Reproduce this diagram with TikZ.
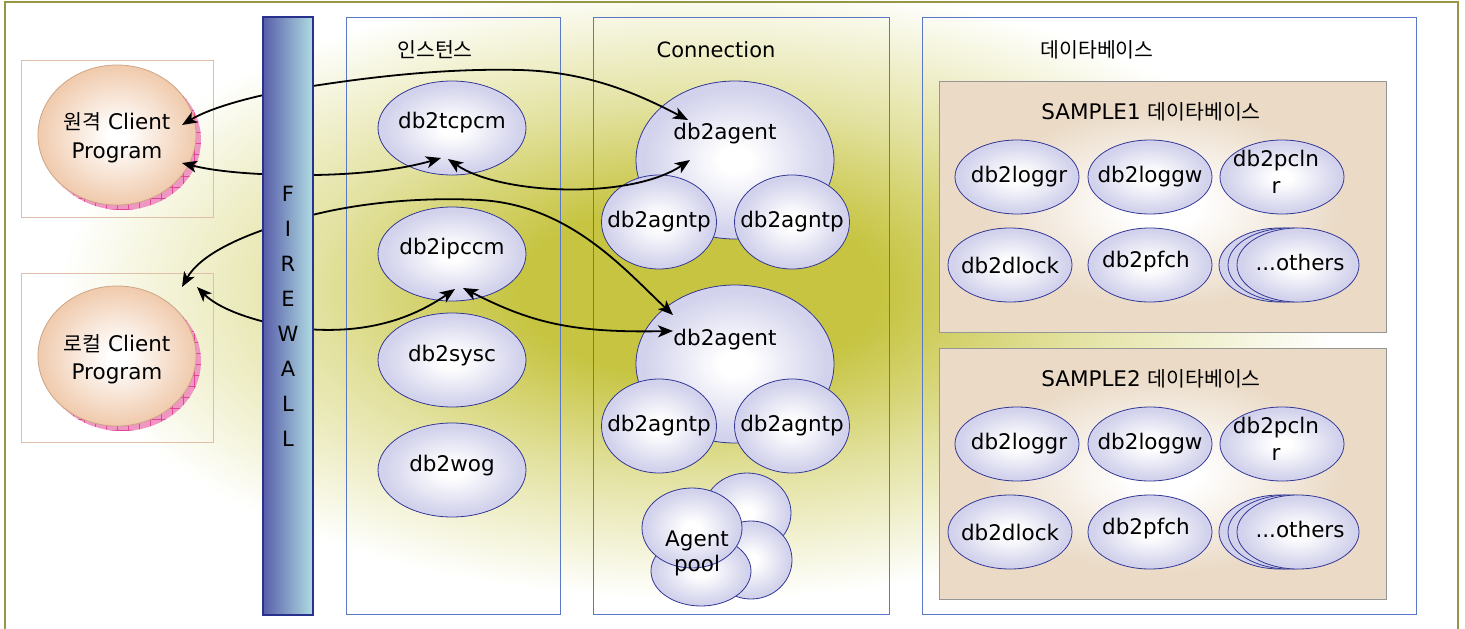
\documentclass[tikz,border=0pt]{standalone}
\usepackage{fontspec}
\setmainfont{DejaVu Sans}
\newfontfamily\kr{Noto Sans CJK KR}
\usetikzlibrary{shapes.geometric,arrows.meta}

\definecolor{glow}{RGB}{198,196,64}
\colorlet{glowmid}{glow!50!white}
\definecolor{frameol}{RGB}{150,150,70}
\definecolor{colblue}{RGB}{90,120,200}
\definecolor{lav}{RGB}{210,210,236}
\definecolor{ellb}{RGB}{50,55,150}
\definecolor{peach}{RGB}{240,202,172}
\definecolor{peachb}{RGB}{205,165,135}
\definecolor{pinkf}{RGB}{240,150,195}
\definecolor{pinkl}{RGB}{225,70,150}
\definecolor{tanf}{RGB}{234,218,198}
\definecolor{tanbox}{RGB}{224,190,168}
\definecolor{fwl}{RGB}{88,94,170}
\definecolor{fwr}{RGB}{176,220,226}
\definecolor{fwb}{RGB}{40,50,140}
\definecolor{dbgray}{RGB}{150,150,150}

\pgfdeclareradialshading{bgglow}{\pgfpoint{0bp}{0bp}}{color(0bp)=(glow); color(7bp)=(glow); color(15bp)=(glowmid); color(25bp)=(white); color(50bp)=(white)}
\pgfdeclareradialshading{tanglow}{\pgfpoint{0bp}{0bp}}{color(0bp)=(white); color(4bp)=(white); color(20bp)=(tanf); color(50bp)=(tanf)}
\pgfdeclareradialshading{lavglow}{\pgfpoint{0bp}{0bp}}{color(0bp)=(white); color(4bp)=(white); color(23bp)=(lav); color(50bp)=(lav)}
\pgfdeclareradialshading{peachglow}{\pgfpoint{0bp}{0bp}}{color(0bp)=(white); color(3bp)=(white); color(25bp)=(peach); color(50bp)=(peach)}

\begin{document}
\begin{tikzpicture}[x=1pt,y=-1pt,
  proc/.style={ellipse, draw=ellb, line width=0.8pt, shade, shading=lavglow, inner sep=0pt, minimum width=124pt, minimum height=74pt},
  instp/.style={proc, minimum width=148pt, minimum height=94pt},
  agentp/.style={proc, minimum width=198pt, minimum height=158pt},
  agntpp/.style={proc, minimum width=115pt, minimum height=94pt},
  lbl/.style={font=\fontsize{21.5}{27}\selectfont, align=center, inner sep=0pt},
  ttl/.style={font=\kr\fontsize{20.5}{24}\selectfont, inner sep=0pt},
  client/.style={ellipse, draw=peachb, line width=0.8pt, shade, shading=peachglow, inner sep=0pt, minimum width=158pt, minimum height=140pt},
  clbox/.style={draw=tanbox, line width=1pt, inner sep=0pt},
  colbox/.style={draw=colblue, line width=1pt, inner sep=0pt},
  dbbox/.style={draw=dbgray, line width=1pt, shade, shading=tanglow, inner sep=0pt, minimum width=447pt, minimum height=251pt},
  conn/.style={line width=1.8pt, {Stealth[length=15pt,width=12pt,inset=4pt]}-{Stealth[length=15pt,width=12pt,inset=4pt]}},
]
\useasboundingbox (0,0) rectangle (1465,629);
\fill[white] (0,0) rectangle (1465,629);
% background glow
\begin{scope}
  \clip (5,2) rectangle (1458,629);
  \shade[shading=bgglow] (700,290) ellipse [x radius=640pt, y radius=310pt];
\end{scope}
\draw[frameol, line width=2pt] (5,629) -- (5,2) -- (1458,2) -- (1458,629);

% columns
\node[colbox, minimum width=214pt, minimum height=597pt] (inst) at (453,315.5) {};
\node[colbox, minimum width=296pt, minimum height=597pt] (conncol) at (741,315.5) {};
\node[colbox, minimum width=494pt, minimum height=597pt] (dbcol) at (1169,315.5) {};
\node[ttl] (insttl) at (435,50) {인스턴스};
\node[ttl, font=\fontsize{21}{24}\selectfont] (conntl) at (716,50) {Connection};
\node[ttl] (dbtl) at (1097,50) {데이타베이스};

% client boxes
\node[clbox, minimum width=192pt, minimum height=157pt] (c1box) at (117,138.5) {};
\node[clbox, minimum width=192pt, minimum height=169pt] (c2box) at (117,357.5) {};
\foreach \cy/\nm in {135/c1, 356/c2}{
  \begin{scope}
    \fill[pinkf] (122,\cy+5) ellipse [x radius=79pt, y radius=70pt];
    \clip (122,\cy+5) ellipse [x radius=79pt, y radius=70pt];
    \foreach \gx in {40,51,...,215} \draw[pinkl, line width=0.4pt] (\gx,\cy-80) -- (\gx,\cy+90);
    \foreach \gy in {-80,-69,...,90} \draw[pinkl, line width=0.4pt] (30,\cy+\gy) -- (215,\cy+\gy);
  \end{scope}
}
\node[client] (c1) at (117,135) {};
\node[client] (c2) at (117,356) {};
\node[lbl, font=\fontsize{21.5}{29}\selectfont] (c1t) at (117,138) {{\kr\fontsize{20.5}{29}\selectfont 원격} Client\\Program};
\node[lbl, font=\fontsize{21.5}{28}\selectfont] (c2t) at (117,359) {{\kr\fontsize{20.5}{28}\selectfont 로컬} Client\\Program};

% instance processes
\node[instp, label={[lbl,yshift=5pt]center:db2tcpcm}] (tcp) at (452,128) {};
\node[instp, label={[lbl,yshift=5pt]center:db2ipccm}] (ipc) at (452,254) {};
\node[instp, label={[lbl,yshift=4pt]center:db2sysc}] (sysc) at (452,360) {};
\node[instp, label={[lbl,yshift=4pt]center:db2wog}] (wog) at (452,470) {};

% connection agents
\node[agentp, label={[lbl,xshift=-10pt,yshift=26pt]center:db2agent}] (ag1) at (735,160) {};
\node[agntpp, label={[lbl]center:db2agntp}] (ap1) at (659,222) {};
\node[agntpp, label={[lbl]center:db2agntp}] (ap2) at (792,222) {};
\node[agentp, label={[lbl,xshift=-10pt,yshift=24pt]center:db2agent}] (ag2) at (735,364) {};
\node[agntpp, label={[lbl]center:db2agntp}] (ap3) at (659,426) {};
\node[agntpp, label={[lbl]center:db2agntp}] (ap4) at (792,426) {};

% agent pool
\node[proc, minimum width=88pt, minimum height=80pt] (pa) at (747,513) {};
\node[proc, minimum width=82pt, minimum height=78pt] (pb) at (751,560) {};
\node[proc, minimum width=100pt, minimum height=70pt] (pc) at (701,571) {};
\node[proc, minimum width=100pt, minimum height=80pt] (pd) at (692,528) {};
\node[lbl, font=\fontsize{21.5}{25}\selectfont] (poolt) at (697,553) {Agent\\pool};

% databases
\foreach \dy/\k in {0/1, 267/2}{
  \node[dbbox] (s\k) at (1162.5,206.5+\dy) {};
  \node[lbl] (s\k t) at (1151,112+\dy) {SAMPLE\k\ {\kr\fontsize{20.5}{24}\selectfont 데이타베이스}};
  \node[proc, label={[lbl,xshift=2pt]center:db2loggr}] (lr\k) at (1017,177+\dy) {};
  \node[proc, label={[lbl]center:db2loggw}] (lw\k) at (1150,177+\dy) {};
  \node[proc, label={[lbl,xshift=-6pt,yshift=5pt]center:db2pcln\\r}] (pl\k) at (1282,177+\dy) {};
  \node[proc, label={[lbl]center:db2dlock}] (dl\k) at (1010,265+\dy) {};
  \node[proc, label={[lbl,xshift=-4pt,yshift=3pt]center:db2pfch}] (pf\k) at (1150,265+\dy) {};
  \node[proc, minimum width=122pt] (oa\k) at (1280,265+\dy) {};
  \node[proc, minimum width=122pt] (ob\k) at (1289,265+\dy) {};
  \node[proc, minimum width=122pt, label={[lbl,xshift=2pt,yshift=3pt]center:...others}] (oc\k) at (1298,265+\dy) {};
}

% connectors
\draw[conn] ([shift={(-47,-40)}]ag1.center) .. controls (640,95) and (590,72) .. (520,70)
   .. controls (440,68) and (360,78) .. (288,90) .. controls (250,97) and (210,108) .. ([shift={(65,-10)}]c1.center);
\draw[conn] ([shift={(65,28)}]c1.center) .. controls (210,170) and (240,174) .. (288,175)
   .. controls (350,176) and (400,170) .. ([shift={(-11,30)}]tcp.center);
\draw[conn] ([shift={(-4,31)}]tcp.center) .. controls (500,195) and (630,200) .. ([shift={(-45,0)}]ag1.center);
\draw[conn] ([shift={(-62,-49)}]ag2.center) .. controls (625,270) and (570,205) .. (480,200)
   .. controls (400,196) and (330,208) .. (288,222) .. controls (240,236) and (200,255) .. ([shift={(65,-69)}]c2.center);
\draw[conn] ([shift={(80,-69)}]c2.center) .. controls (215,305) and (240,318) .. (288,327)
   .. controls (360,337) and (410,320) .. ([shift={(3,35)}]ipc.center);
\draw[conn] ([shift={(11,34)}]ipc.center) .. controls (530,322) and (570,333) .. ([shift={(-62,-33)}]ag2.center);

% firewall
\node[draw=fwb, line width=1.5pt, shade, left color=fwl, right color=fwr, minimum width=50pt, minimum height=598pt, inner sep=0pt] (fw) at (288,316) {};
\node[lbl, font=\fontsize{21}{35}\selectfont] (fwt) at (288,316) {F\\I\\R\\E\\W\\A\\L\\L};
\end{tikzpicture}
\end{document}
